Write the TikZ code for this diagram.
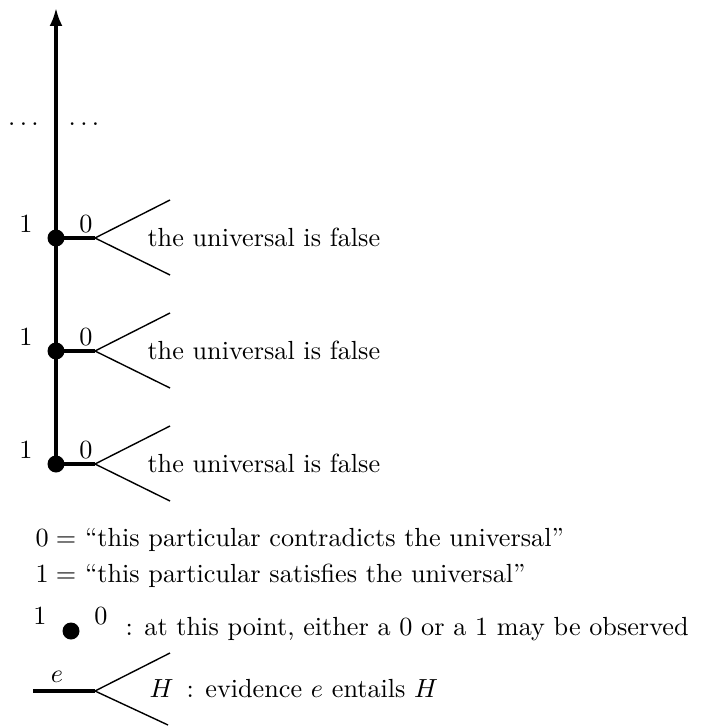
\documentclass[tikz,border=0pt]{standalone}
\usetikzlibrary{arrows.meta}
\begin{document}
\begin{tikzpicture}[x=1pt,y=-1pt,
  lbl/.style={scale=2.62,inner sep=0pt},
  thickline/.style={line width=3.2pt},
  thinline/.style={line width=1.4pt},
  bigdot/.style={circle,fill=black,inner sep=0pt,minimum size=17pt}]
\useasboundingbox (0,0) rectangle (709,727);
% main axis
\coordinate (top) at (56,8);
\node[bigdot] (d1) at (56,238) {};
\node[bigdot] (d2) at (56,351) {};
\node[bigdot] (d3) at (56,464) {};
\draw[thickline,-{Latex[length=18pt,width=13pt]}] (d3.center) -- (top);
% ellipses
\node[lbl,anchor=base] (dl) at (23.5,126) {$\ldots$};
\node[lbl,anchor=base] (dr) at (84,126) {$\ldots$};
% branches
\foreach \i/\y in {1/238,2/351,3/464}{
  \coordinate (f\i) at (95,\y);
  \coordinate (u\i) at (170,\y-38);
  \coordinate (w\i) at (170,\y+37);
  \draw[thickline] (d\i.center) -- (f\i);
  \draw[thinline] (u\i) -- (f\i) -- (w\i);
  \node[lbl,anchor=base] (one\i) at (26,\y-6) {1};
  \node[lbl,anchor=base] (zero\i) at (86,\y-6) {0};
  \node[lbl,anchor=base west] (t\i) at (147,\y+8) {the universal is false};
}
% legend
\node[lbl,anchor=base west] (leg0) at (35,546) {$0 =$ ``this particular contradicts the universal''};
\node[lbl,anchor=base west] (leg1) at (35,582) {$1 =$ ``this particular satisfies the universal''};
\node[lbl,anchor=base] (lone) at (40,624) {1};
\node[bigdot] (ldot) at (71,631) {};
\node[lbl,anchor=base] (lzero) at (101,624) {0};
\node[lbl,anchor=base west] (leg2) at (125,635) {: at this point, either a 0 or a 1 may be observed};
\coordinate (ea) at (33,691);
\coordinate (ef) at (95,691);
\coordinate (eu) at (170,653);
\coordinate (ew) at (168,725);
\draw[thickline] (ea) -- (ef);
\draw[thinline] (eu) -- (ef) -- (ew);
\node[lbl,anchor=base] (le) at (57,682) {$e$};
\node[lbl,anchor=base west] (leg3) at (149,697) {$H$\,\ : evidence $e$ entails $H$};
\end{tikzpicture}
\end{document}
